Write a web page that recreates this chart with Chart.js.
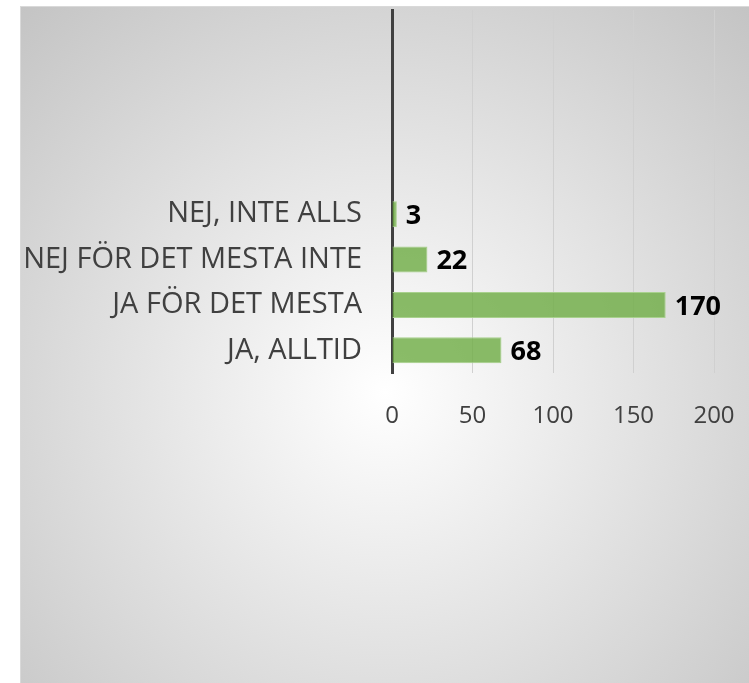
<!DOCTYPE html>
<html>
<head>
<meta charset="utf-8">
<script src="https://cdn.jsdelivr.net/npm/chart.js@4.4.1/dist/chart.umd.min.js"></script>
<style>
  html, body { margin: 0; padding: 0; background: #fff; overflow: hidden; }
  #box {
    position: absolute; left: 20px; top: 6px;
    width: 729px; height: 677px;
    box-sizing: border-box;
    border-left: 1px solid #d9d9d9; border-top: 1px solid #d9d9d9;
    background: radial-gradient(circle farthest-corner at 50% 57%, #ffffff 0%, #c4c4c4 100%);
  }
</style>
</head>
<body>
<div id="box"><canvas id="myChart" width="728" height="676"></canvas></div>
<script>
// answers, listed bottom to top like the original
var categories = ['JA, ALLTID', 'JA FÖR DET MESTA', 'NEJ FÖR DET MESTA INTE', 'NEJ, INTE ALLS'];
var answers = [68, 170, 22, 3];
var xTicks = [0, 50, 100, 150, 200];

// the original leaves four empty rows above the bars
var labels = categories.concat(['', '', '', '']);
var values = answers.concat([null, null, null, null]);

var fontName = '"Open Sans", "Liberation Sans", sans-serif';

// draws the number at the end of each bar
var valueLabels = {
  id: 'valueLabels',
  afterDatasetsDraw: function (chart) {
    var ctx = chart.ctx;
    var meta = chart.getDatasetMeta(0);
    ctx.save();
    ctx.font = 'bold 27px ' + fontName;
    ctx.fillStyle = '#000';
    ctx.textAlign = 'left';
    ctx.textBaseline = 'middle';
    meta.data.forEach(function (bar, i) {
      var v = chart.data.datasets[0].data[i];
      if (v === null) return;
      ctx.fillText(v, bar.x + 9, bar.y + 2);
    });
    ctx.restore();
  }
};

var ctx = document.getElementById('myChart').getContext('2d');
var chart = new Chart(ctx, {
  type: 'bar',
  data: {
    labels: labels,
    datasets: [{
      data: values,
      backgroundColor: 'rgba(112,173,71,0.82)',
      borderColor: '#a9d18e',
      borderWidth: 1,
      categoryPercentage: 1,
      barPercentage: 0.575
    }]
  },
  options: {
    indexAxis: 'y',
    responsive: false,
    animation: false,
    layout: { padding: { top: 3, right: 35, left: 0, bottom: 0 } },
    plugins: {
      legend: { display: false },
      tooltip: { enabled: false }
    },
    scales: {
      x: {
        min: 0,
        max: 200,
        afterBuildTicks: function (scale) {
          scale.ticks = xTicks.map(function (t) { return { value: t }; });
        },
        afterFit: function (scale) {
          scale.height = 310;
          scale.paddingLeft = 0;
          scale.paddingRight = 0;
        },
        grid: { color: '#d0d0d0', lineWidth: 1, drawTicks: false },
        border: { display: false },
        ticks: {
          padding: 29,
          color: '#404040',
          font: { family: fontName, size: 24 }
        }
      },
      y: {
        reverse: true,
        afterFit: function (scale) {
          scale.width = 371;
          scale.paddingTop = 0;
          scale.paddingBottom = 0;
        },
        grid: { display: false, drawTicks: false },
        border: { display: true, color: '#404040', width: 3 },
        ticks: {
          padding: 30,
          color: '#404040',
          font: { family: fontName, size: 29 }
        }
      }
    }
  },
  plugins: [valueLabels]
});
</script>
</body>
</html>
